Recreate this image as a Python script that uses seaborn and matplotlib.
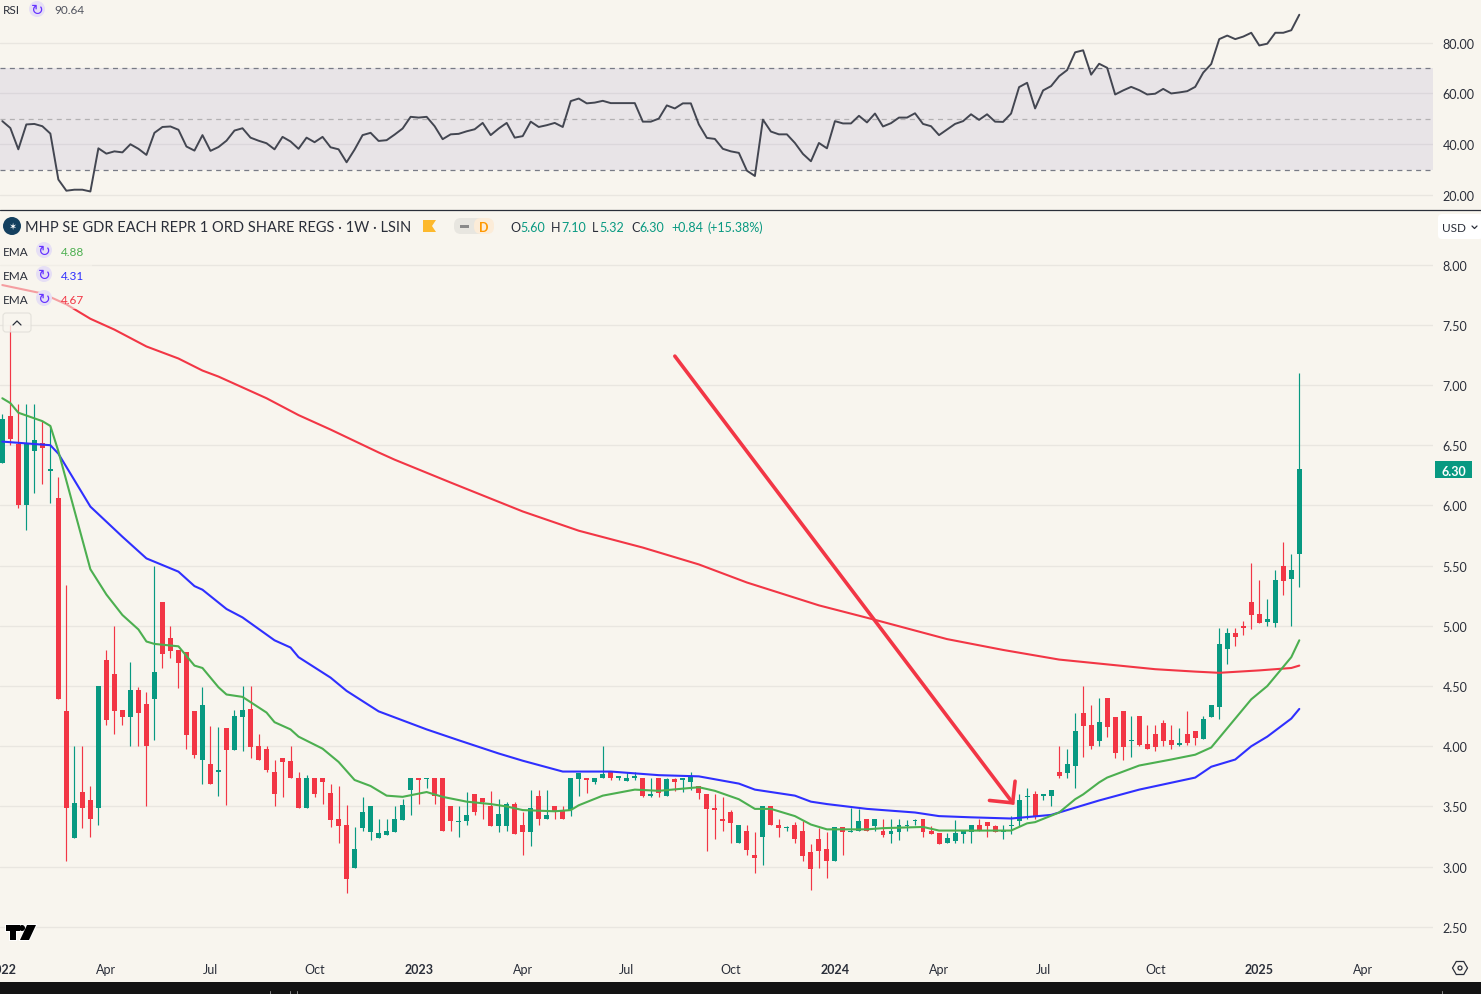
import numpy as np
import pandas as pd
import matplotlib
matplotlib.use('Agg')
import matplotlib.pyplot as plt
from matplotlib.patches import Circle, FancyBboxPatch, Polygon, Rectangle, RegularPolygon
import seaborn as sns

# weekly candles, one row per week, left to right
opens = [6.35, 6.74, 6.51, 6.00, 6.45, 6.52, 6.29, 6.06, 4.29, 3.24, 3.62, 3.55, 3.49, 4.72, 4.60, 4.30, 4.24, 4.47, 4.35, 4.39,
         5.20, 4.90, 4.80, 4.78, 4.29, 3.89, 3.85, 3.79, 4.15, 3.97, 4.24, 4.31, 4.00, 3.98, 3.79, 3.90, 3.88, 3.74, 3.49, 3.74,
         3.74, 3.61, 3.40, 3.35, 2.99, 3.32, 3.29, 3.24, 3.26, 3.29, 3.39, 3.64, 3.74, 3.73, 3.74, 3.74, 3.50, 3.37, 3.38, 3.60,
         3.57, 3.50, 3.34, 3.34, 3.52, 3.35, 3.29, 3.59, 3.40, 3.50, 3.47, 3.47, 3.73, 3.74, 3.70, 3.74, 3.79, 3.74, 3.71, 3.74,
         3.74, 3.59, 3.74, 3.59, 3.73, 3.72, 3.70, 3.67, 3.60, 3.49, 3.40, 3.45, 3.20, 3.30, 3.10, 3.25, 3.50, 3.35, 3.32, 3.35,
         3.30, 3.12, 3.23, 3.15, 3.05, 3.33, 3.29, 3.30, 3.40, 3.34, 3.30, 3.27, 3.29, 3.34, 3.38, 3.40, 3.30, 3.28, 3.20, 3.21,
         3.27, 3.29, 3.35, 3.37, 3.34, 3.29, 3.34, 3.38, 3.58, 3.60, 3.59, 3.59, 3.79, 3.78, 3.84, 4.28, 4.18, 4.04, 4.40, 4.24,
         4.29, 4.04, 4.25, 4.02, 4.10, 4.19, 4.05, 4.01, 4.10, 4.13, 4.06, 4.24, 4.33, 4.81, 4.94, 5.00, 5.20, 5.10, 5.03, 5.02,
         5.50, 5.39, 5.60]
highs = [6.76, 7.50, 6.84, 6.84, 6.84, 6.70, 6.66, 6.24, 5.34, 4.00, 4.00, 3.67, 4.50, 4.80, 5.00, 4.30, 4.70, 4.49, 4.45, 5.50,
         5.20, 5.00, 4.80, 4.78, 4.29, 4.49, 4.17, 4.16, 4.15, 4.30, 4.50, 4.50, 4.10, 4.00, 3.89, 3.90, 4.00, 3.79, 3.76, 3.74,
         3.74, 3.69, 3.67, 3.51, 3.33, 3.58, 3.50, 3.40, 3.40, 3.50, 3.56, 3.74, 3.74, 3.74, 3.74, 3.74, 3.50, 3.50, 3.62, 3.60,
         3.57, 3.63, 3.56, 3.54, 3.54, 3.45, 3.64, 3.64, 3.64, 3.50, 3.50, 3.74, 3.78, 3.74, 3.74, 4.00, 3.79, 3.75, 3.79, 3.79,
         3.74, 3.74, 3.74, 3.74, 3.74, 3.74, 3.79, 3.67, 3.60, 3.60, 3.58, 3.47, 3.35, 3.35, 3.29, 3.50, 3.50, 3.40, 3.34, 3.37,
         3.38, 3.19, 3.32, 3.29, 3.33, 3.33, 3.49, 3.48, 3.40, 3.40, 3.40, 3.40, 3.40, 3.39, 3.40, 3.40, 3.34, 3.28, 3.28, 3.39,
         3.30, 3.35, 3.40, 3.37, 3.35, 3.35, 3.42, 3.60, 3.65, 3.63, 3.60, 3.64, 4.00, 3.98, 4.28, 4.50, 4.34, 4.40, 4.40, 4.24,
         4.29, 4.25, 4.25, 4.18, 4.18, 4.22, 4.18, 4.15, 4.29, 4.13, 4.25, 4.34, 4.98, 4.98, 4.98, 5.04, 5.52, 5.38, 5.22, 5.46,
         5.70, 5.60, 7.10]
lows = [6.35, 6.50, 5.98, 5.80, 6.10, 6.18, 6.02, 4.39, 3.05, 3.24, 3.32, 3.25, 3.35, 4.18, 4.10, 4.18, 4.00, 4.00, 3.50, 4.05,
        4.65, 4.73, 4.48, 3.98, 3.90, 3.69, 3.69, 3.59, 3.51, 3.97, 3.96, 3.90, 3.89, 3.79, 3.50, 3.58, 3.74, 3.49, 3.49, 3.58,
        3.52, 3.33, 3.20, 2.78, 2.99, 3.30, 3.22, 3.24, 3.26, 3.29, 3.39, 3.43, 3.52, 3.65, 3.52, 3.30, 3.30, 3.25, 3.35, 3.43,
        3.40, 3.34, 3.29, 3.30, 3.27, 3.10, 3.17, 3.35, 3.40, 3.40, 3.40, 3.42, 3.59, 3.61, 3.69, 3.74, 3.72, 3.72, 3.71, 3.72,
        3.58, 3.58, 3.58, 3.59, 3.63, 3.62, 3.64, 3.56, 3.13, 3.23, 3.30, 3.20, 3.20, 3.10, 2.95, 3.01, 3.35, 3.25, 3.30, 3.20,
        3.05, 2.81, 2.99, 2.91, 3.05, 3.10, 3.29, 3.30, 3.30, 3.30, 3.25, 3.20, 3.22, 3.30, 3.35, 3.25, 3.27, 3.19, 3.20, 3.20,
        3.20, 3.20, 3.30, 3.25, 3.29, 3.23, 3.27, 3.34, 3.40, 3.40, 3.55, 3.50, 3.74, 3.74, 3.65, 3.91, 3.98, 4.00, 4.08, 3.90,
        3.89, 3.91, 4.00, 3.98, 3.96, 4.00, 3.98, 4.00, 4.01, 4.01, 4.06, 4.24, 4.23, 4.68, 4.83, 4.92, 4.97, 5.02, 5.00, 4.99,
        5.26, 5.00, 5.32]
closes = [6.72, 6.55, 6.00, 6.52, 6.54, 6.48, 6.30, 4.39, 3.49, 3.53, 3.49, 3.40, 4.50, 4.22, 4.29, 4.24, 4.47, 4.28, 4.00, 4.62,
          4.77, 4.79, 4.69, 4.09, 3.93, 4.34, 3.69, 3.80, 3.97, 4.25, 4.30, 3.99, 3.89, 3.80, 3.60, 3.87, 3.74, 3.49, 3.74, 3.60,
          3.70, 3.39, 3.34, 2.90, 3.15, 3.45, 3.50, 3.28, 3.30, 3.40, 3.51, 3.74, 3.72, 3.74, 3.59, 3.30, 3.38, 3.38, 3.43, 3.45,
          3.54, 3.34, 3.44, 3.52, 3.27, 3.29, 3.49, 3.40, 3.43, 3.45, 3.40, 3.74, 3.78, 3.72, 3.74, 3.77, 3.74, 3.75, 3.74, 3.75,
          3.59, 3.60, 3.61, 3.73, 3.70, 3.74, 3.75, 3.61, 3.48, 3.47, 3.38, 3.36, 3.35, 3.14, 3.07, 3.50, 3.35, 3.32, 3.33, 3.23,
          3.09, 2.98, 3.13, 3.05, 3.33, 3.29, 3.30, 3.38, 3.30, 3.40, 3.26, 3.30, 3.35, 3.35, 3.39, 3.29, 3.27, 3.19, 3.24, 3.28,
          3.30, 3.35, 3.30, 3.34, 3.29, 3.30, 3.35, 3.55, 3.59, 3.41, 3.60, 3.64, 3.75, 3.85, 4.13, 4.17, 4.00, 4.20, 4.16, 3.94,
          3.99, 4.05, 4.01, 3.98, 3.99, 4.04, 4.01, 4.03, 4.03, 4.07, 4.23, 4.34, 4.85, 4.94, 4.91, 4.98, 5.09, 5.02, 5.06, 5.38,
          5.37, 5.46, 6.30]

# EMA lines, read at their bends: week number and value
ema_green_wk = [0, 1, 2, 5, 6, 7, 11, 13, 15, 17, 18, 19, 22, 24, 25, 27, 28, 30, 33, 34, 36, 37, 40, 42, 44, 46, 48, 50, 53, 55,
                58, 61, 63, 65, 69, 71, 72, 75, 79, 82, 87, 89, 92, 94, 96, 99, 101, 103, 108, 110, 115, 117, 122, 126, 128, 129,
                132, 134, 135, 137, 138, 142, 146, 149, 151, 156, 158, 161, 162]
ema_green = [6.89, 6.85, 6.77, 6.70, 6.66, 6.45, 5.47, 5.26, 5.09, 4.97, 4.87, 4.85, 4.83, 4.67, 4.65, 4.49, 4.43, 4.41, 4.28, 4.20,
             4.14, 4.08, 3.98, 3.87, 3.72, 3.67, 3.59, 3.58, 3.62, 3.58, 3.54, 3.52, 3.50, 3.47, 3.46, 3.47, 3.51, 3.59, 3.64, 3.63,
             3.66, 3.63, 3.56, 3.48, 3.48, 3.42, 3.35, 3.31, 3.31, 3.32, 3.33, 3.30, 3.30, 3.30, 3.36, 3.37, 3.45, 3.56, 3.60, 3.70,
             3.74, 3.84, 3.89, 3.93, 3.99, 4.39, 4.50, 4.74, 4.88]
ema_blue_wk = [0, 6, 7, 11, 15, 18, 22, 24, 25, 28, 30, 34, 36, 37, 41, 43, 47, 53, 57, 62, 65, 70, 74, 76, 82, 87, 92, 94, 99, 101,
               103, 108, 110, 114, 117, 121, 126, 131, 132, 135, 137, 142, 149, 151, 154, 156, 158, 161, 162]
ema_blue = [6.53, 6.50, 6.43, 5.99, 5.74, 5.56, 5.45, 5.33, 5.30, 5.14, 5.07, 4.88, 4.82, 4.74, 4.57, 4.46, 4.29, 4.14, 4.05, 3.94,
            3.88, 3.79, 3.79, 3.79, 3.76, 3.75, 3.69, 3.64, 3.59, 3.54, 3.52, 3.48, 3.47, 3.45, 3.42, 3.41, 3.40, 3.43, 3.45, 3.51,
            3.55, 3.64, 3.74, 3.83, 3.89, 4.00, 4.08, 4.23, 4.31]
ema_red_wk = [0, 5, 8, 11, 14, 18, 22, 25, 27, 30, 33, 37, 41, 47, 49, 56, 65, 72, 80, 87, 93, 102, 109, 118, 125, 132, 138, 144,
              149, 152, 157, 161, 162]
ema_red = [7.83, 7.76, 7.67, 7.55, 7.46, 7.32, 7.22, 7.12, 7.07, 6.98, 6.89, 6.75, 6.63, 6.44, 6.38, 6.19, 5.95, 5.79, 5.65, 5.51,
           5.36, 5.17, 5.05, 4.89, 4.80, 4.72, 4.68, 4.64, 4.62, 4.61, 4.63, 4.65, 4.67]

# RSI, one value per week
rsi = [49.1, 46.4, 38.0, 47.8, 48.0, 47.1, 44.2, 26.1, 21.7, 22.1, 22.1, 21.4, 38.4, 36.3, 37.2, 36.8, 40.0, 38.2, 35.8, 44.5,
       46.8, 47.0, 45.7, 39.1, 37.5, 43.6, 37.4, 38.9, 41.4, 45.4, 46.3, 42.6, 41.4, 40.4, 38.0, 42.9, 41.1, 38.2, 42.6, 40.8,
       42.9, 38.8, 38.0, 32.9, 37.9, 43.6, 44.5, 41.3, 41.6, 43.8, 46.2, 50.8, 50.5, 50.8, 47.1, 42.0, 43.9, 44.1, 45.1, 45.9,
       48.4, 43.6, 46.2, 48.4, 42.6, 43.2, 48.9, 46.8, 47.5, 48.4, 46.8, 57.0, 58.0, 56.1, 56.4, 57.1, 56.2, 56.2, 56.2, 56.2,
       48.9, 48.9, 50.1, 55.3, 54.1, 56.1, 56.1, 47.8, 42.5, 42.1, 38.2, 37.2, 36.6, 29.6, 27.5, 49.7, 45.0, 43.9, 43.9, 40.5,
       36.2, 33.3, 40.5, 38.4, 49.1, 48.2, 48.2, 51.2, 48.6, 52.1, 47.0, 48.3, 50.5, 50.5, 52.2, 48.0, 47.1, 43.6, 45.8, 48.0,
       49.1, 51.8, 49.6, 51.8, 48.9, 48.8, 52.1, 62.5, 64.2, 54.1, 61.2, 62.9, 66.8, 69.2, 76.2, 77.0, 67.4, 71.7, 70.1, 59.6,
       61.2, 62.6, 61.3, 59.6, 59.9, 61.8, 60.0, 60.4, 60.9, 62.6, 68.2, 71.6, 81.4, 82.8, 81.4, 82.4, 83.9, 78.9, 79.6, 83.9,
       83.9, 84.9, 91.0]

# time axis labels and the week each one sits on
tick_weeks = [0, 13, 26, 39, 52, 65, 78, 91, 104, 117, 130, 144, 157, 170]
tick_names = ['2022', 'Apr', 'Jul', 'Oct', '2023', 'Apr', 'Jul', 'Oct', '2024', 'Apr', 'Jul', 'Oct', '2025', 'Apr']
price_ticks = [2.5, 3.0, 3.5, 4.0, 4.5, 5.0, 5.5, 6.0, 6.5, 7.0, 7.5, 8.0]
rsi_ticks = [20, 40, 60, 80]

# drawn trend arrow: week, price
arrow_wk = [84.0, 126.2]
arrow_px = [7.24, 3.53]
head_wk = [126.5, 126.2, 123.3]
head_px = [3.71, 3.53, 3.55]

BG = '#f8f5ee'
GRID = '#e9e6e0'
RED = '#f23645'
GREEN = '#089981'
TEXT = '#2a2e39'
W, H = 1481, 995
PANE_R = 1433

sns.set_theme(style='white', rc={'figure.facecolor': BG, 'axes.facecolor': BG})
plt.rcParams['font.family'] = ['Lato', 'DejaVu Sans']

fig = plt.figure(figsize=(W / 100, H / 100), dpi=100)

def pane(top, bottom):
    ax = fig.add_axes([0, 1 - bottom / H, PANE_R / W, (bottom - top) / H])
    ax.set_xlim(-0.29, 178.7)
    sns.despine(ax=ax, left=True, bottom=True, right=True, top=True)
    ax.yaxis.tick_right()
    ax.grid(axis='y', color=GRID, linewidth=1)
    ax.set_axisbelow(True)
    ax.tick_params(axis='y', length=0, pad=7, labelsize=9, labelcolor=TEXT)
    ax.set_xlabel('')
    ax.set_ylabel('')
    return ax

# RSI pane
ax_rsi = pane(0, 210)
ax_rsi.set_ylim(14.5, 97.2)
ax_rsi.set_yticks(rsi_ticks, [f'{v:.2f}' for v in rsi_ticks])
ax_rsi.set_xticks([])
ax_rsi.axhspan(30, 70, color='#6255b2', alpha=0.1, linewidth=0)
for level, col in [(70, '#787b86'), (50, '#b3b1b3'), (30, '#787b86')]:
    ax_rsi.axhline(level, color=col, linewidth=0.9, dashes=(4, 3.5))
sns.lineplot(x=np.arange(len(rsi)), y=rsi, ax=ax_rsi, color='#434651', linewidth=1.4, legend=False)
ax_rsi.set_xlim(-0.29, 178.7)

# price pane
df = pd.DataFrame({'open': opens, 'high': highs, 'low': lows, 'close': closes})
df['week'] = df.index
df['col'] = np.where(df['close'] >= df['open'], GREEN, RED)

ax = pane(212, 958)
ax.set_ylim(2.25, 8.445)
ax.set_yticks(price_ticks, [f'{v:.2f}' for v in price_ticks])
ax.vlines(df['week'], df['low'], df['high'], colors=df['col'], linewidth=0.85, zorder=2)
ax.bar(df['week'], (df['close'] - df['open']).abs(), bottom=df[['open', 'close']].min(axis=1),
       width=0.62, color=df['col'], linewidth=0, zorder=3)

for wk, vals, col in [(ema_red_wk, ema_red, RED), (ema_blue_wk, ema_blue, '#2f2fff'), (ema_green_wk, ema_green, '#4caf50')]:
    sns.lineplot(x=wk, y=vals, ax=ax, color=col, linewidth=1.5, legend=False, zorder=4)

ax.plot(arrow_wk, arrow_px, color=RED, linewidth=2.6, solid_capstyle='round', zorder=5)
ax.plot(head_wk, head_px, color=RED, linewidth=2.6, solid_capstyle='round', solid_joinstyle='miter', zorder=5)
ax.set_xlim(-0.29, 178.7)
ax.set_xticks(tick_weeks, tick_names)
ax.tick_params(axis='x', length=0, pad=4.5, labelsize=9, labelcolor=TEXT)
for lab in ax.get_xticklabels():
    if lab.get_text().startswith('20'):
        lab.set_fontweight('bold')

# everything that is chart furniture goes in a pixel overlay
ui = fig.add_axes([0, 0, 1, 1], zorder=10)
ui.set_xlim(0, W)
ui.set_ylim(H, 0)
ui.axis('off')
ui.patch.set_alpha(0)

def label(x, y, s, color=TEXT, size=9, ha='left', **kw):
    ui.text(x, y + 1, s, color=color, fontsize=size, ha=ha, va='center', **kw)

def sync_icon(x, y):
    ui.add_patch(Circle((x, y), 8, color='#e6dff5', linewidth=0))
    ui.text(x, y, '\u21bb', color='#6633ff', fontsize=11, ha='center', va='center', family='DejaVu Sans')

ui.plot([0, W], [210.5, 210.5], color='#2a2e39', linewidth=0.9)
ui.add_patch(Rectangle((0, 983), W, 12, color='#131313', linewidth=0))
for xt in [270, 290, 297, 1442]:
    ui.plot([xt, xt], [992, 995], color='#888888', linewidth=0.7)

# RSI legend
label(3, 10, 'RSI', size=8.5)
sync_icon(37, 10)
label(54, 10, '90.64', color='#50535e', size=8.5)

# symbol line
ui.add_patch(Circle((12, 227), 9, color='#14405f', linewidth=0))
ui.text(12, 227, '\u2736', color='white', fontsize=7, ha='center', va='center', family='DejaVu Sans')
label(25, 227, 'MHP SE GDR EACH REPR 1 ORD SHARE REGS \u00b7 1W \u00b7 LSIN', size=10.5)
ui.add_patch(Polygon([(423, 221), (436, 221), (432, 227), (436, 233), (423, 233)], color='#fdb92d', linewidth=0))
ui.add_patch(FancyBboxPatch((454, 219), 36, 16, boxstyle='round,pad=0,rounding_size=7', color='#e8e6e0', linewidth=0))
ui.add_patch(FancyBboxPatch((474, 219), 20, 16, boxstyle='round,pad=0,rounding_size=7', color='#fcecd8', linewidth=0))
ui.add_patch(Rectangle((460, 225.5), 9, 3, color='#8a8a8a', linewidth=0))
label(483.5, 227, 'D', color='#ff9800', size=9, ha='center', fontweight='bold')
for xt, s, col in [(510, 'O', TEXT), (520, '5.60', GREEN), (551, 'H', TEXT), (561, '7.10', GREEN), (592, 'L', TEXT),
                   (599, '5.32', GREEN), (631, 'C', TEXT), (639, '6.30', GREEN), (671, '+0.84', GREEN), (708, '(+15.38%)', GREEN)]:
    label(xt, 227, s, color=col, size=9)

# EMA legend, with the wash that fades the line behind it
ui.add_patch(Rectangle((0, 240), 92, 70, color=BG, alpha=0.55, linewidth=0))
for yt, val, col in [(251, '4.88', '#4caf50'), (275, '4.31', '#2f2fff'), (299, '4.67', RED)]:
    label(3, yt, 'EMA', size=8.5)
    sync_icon(44, yt)
    label(61, yt, val, color=col, size=8.5)
ui.add_patch(FancyBboxPatch((3, 314), 28, 19, boxstyle='round,pad=0,rounding_size=3', facecolor=BG, edgecolor='#dedcd6', alpha=0.8, linewidth=0.8))
ui.plot([13, 17, 21], [326, 322, 326], color=TEXT, linewidth=0.9)

# last price tag and currency box
ui.add_patch(Rectangle((1435, 462), 37, 17, color=GREEN, linewidth=0))
label(1453.5, 470.5, '6.30', color='white', size=9, ha='center', fontweight='bold')
ui.add_patch(FancyBboxPatch((1438, 215), 45, 25, boxstyle='round,pad=0,rounding_size=4', facecolor='white', edgecolor='none', linewidth=0))
label(1442, 227, 'USD', size=8.5)
ui.plot([1472, 1474.5, 1477], [227, 229.5, 227], color=TEXT, linewidth=0.9)

# logo, black marks on a thin white edge
for p in [Rectangle((6, 926), 14, 6), Rectangle((10, 926), 6, 15), Circle((22, 929), 3),
          Polygon([(27, 926), (36, 926), (29, 941), (20, 941)])]:
    p.set_facecolor('black')
    p.set_edgecolor('white')
    p.set_linewidth(1.4)
    ui.add_patch(p)
for p in [Rectangle((6, 926), 14, 6), Rectangle((10, 926), 6, 15), Circle((22, 929), 3),
          Polygon([(27, 926), (36, 926), (29, 941), (20, 941)])]:
    p.set_facecolor('black')
    p.set_linewidth(0)
    ui.add_patch(p)

# settings hexagon
ui.add_patch(RegularPolygon((1460, 969), 6, radius=7.5, orientation=np.pi / 6, facecolor='none', edgecolor=TEXT, linewidth=0.9))
ui.add_patch(Circle((1460, 969), 2, facecolor='none', edgecolor=TEXT, linewidth=0.9))

fig.savefig('out.png', dpi=100, facecolor=BG)
